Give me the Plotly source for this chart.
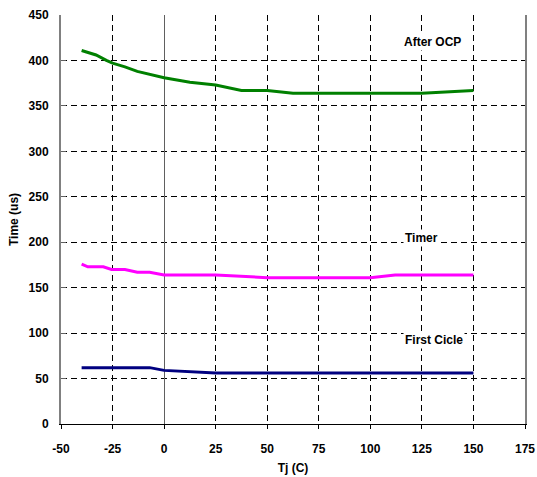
import plotly.graph_objects as go

tj_ocp = [-40, -33, -28, -25, -19, -13, 0, 12.5, 25, 37.5, 50, 62.5, 75, 100, 125, 150]
after_ocp = [411, 406, 400, 397, 393, 388, 381, 376, 373, 367, 367, 364, 364, 364, 364, 367]

tj_timer = [-40, -37, -29.5, -25.5, -19, -13, -7, 0, 25, 50, 75, 100, 112, 125, 150]
timer = [176, 173, 173, 170, 170, 167, 167, 164, 164, 161, 161, 161, 164, 164, 164]

tj_first = [-40, -25, -7, 0, 25, 50, 75, 100, 125, 150]
first_cicle = [62, 62, 62, 59, 56, 56, 56, 56, 56, 56]

x_ticks = [-50, -25, 0, 25, 50, 75, 100, 125, 150, 175]
y_ticks = [0, 50, 100, 150, 200, 250, 300, 350, 400, 450]

labels = ["After OCP", "Timer", "First Cicle"]
label_x = [130, 125, 131]
label_y = [420, 205, 92]

font = "Liberation Sans, Arial, sans-serif"

fig = go.Figure()
fig.add_trace(go.Scatter(x=tj_ocp, y=after_ocp, mode="lines",
                         line=dict(color="#008000", width=3), name=labels[0]))
fig.add_trace(go.Scatter(x=tj_timer, y=timer, mode="lines",
                         line=dict(color="#FF00FF", width=3), name=labels[1]))
fig.add_trace(go.Scatter(x=tj_first, y=first_cicle, mode="lines",
                         line=dict(color="#000080", width=3), name=labels[2]))

for t, x, y in zip(labels, label_x, label_y):
    fig.add_annotation(x=x, y=y, text=t, showarrow=False, bgcolor="white",
                       font=dict(family=font, size=12, color="black", weight="bold"))

fig.update_xaxes(
    range=[-50, 175], tickvals=x_ticks,
    ticktext=[str(v) for v in x_ticks],
    showgrid=True, gridcolor="black", griddash="6px,4px", gridwidth=1,
    showline=True, linecolor="black", linewidth=1,
    ticks="outside", ticklen=4, tickcolor="black", ticklabelstandoff=10,
    zeroline=True, zerolinecolor="#606060", zerolinewidth=1,
    title=dict(text="Tj (C)", font=dict(family=font, size=12, weight="bold"), standoff=8),
    tickfont=dict(family=font, size=12, color="black", weight="bold"),
    ticklabeloverflow="allow",
    automargin=False,
)
fig.update_yaxes(
    range=[0, 450], tickvals=y_ticks,
    ticktext=[str(v) for v in y_ticks],
    showgrid=True, gridcolor="black", griddash="6px,4px", gridwidth=1,
    showline=True, linecolor="#808080", linewidth=2, mirror=True,
    zeroline=False, ticks="inside", ticklen=5, tickcolor="#606060",
    ticklabelstandoff=8,
    title=dict(text="Time (us)", font=dict(family=font, size=12, weight="bold"), standoff=7),
    tickfont=dict(family=font, size=12, color="black", weight="bold"),
    automargin=False,
)

fig.update_layout(
    width=537, height=477,
    margin=dict(l=61, r=12, t=15, b=53),
    plot_bgcolor="white", paper_bgcolor="white",
    showlegend=False,
    font=dict(family=font, color="black"),
)

# drop the default page margin so the figure fills the window exactly
fig.write_html("out.html", config={"displayModeBar": False},
               post_script="document.body.style.margin='0';document.body.style.overflow='hidden';")
